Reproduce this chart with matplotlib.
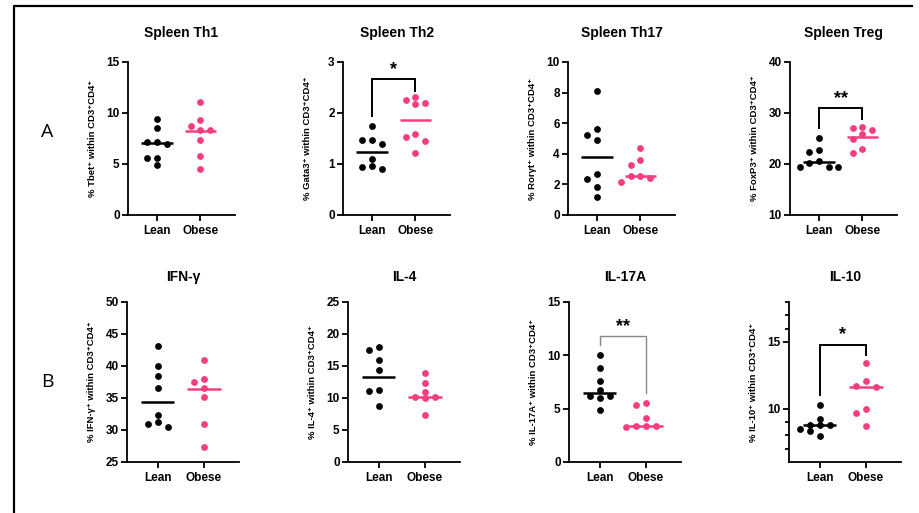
import numpy as np
import matplotlib.pyplot as plt
from matplotlib.lines import Line2D

plt.rcParams['font.family'] = ['Liberation Sans', 'DejaVu Sans']
plt.rcParams['font.weight'] = 'bold'

# --- data ---
groups = ['Lean', 'Obese']
titles = ['Spleen Th1', 'Spleen Th2', 'Spleen Th17', 'Spleen Treg',
          'IFN-γ', 'IL-4', 'IL-17A', 'IL-10']
ylabels = ['% Tbet⁺ within CD3⁺CD4⁺',
           '% Gata3⁺ within CD3⁺CD4⁺',
           '% Rorγt⁺ within CD3⁺CD4⁺',
           '% FoxP3⁺ within CD3⁺CD4⁺',
           '% IFN-γ⁺ within CD3⁺CD4⁺',
           '% IL-4⁺ within CD3⁺CD4⁺',
           '% IL-17A⁺ within CD3⁺CD4⁺',
           '% IL-10⁺ within CD3⁺CD4⁺']

th1_lean = [9.4, 8.5, 7.2, 7.2, 7.0, 5.6, 5.6, 4.9]
th1_obese = [11.1, 9.3, 8.7, 8.3, 8.3, 7.4, 5.8, 4.5]
th2_lean = [1.75, 1.48, 1.48, 1.39, 1.09, 0.96, 0.94, 0.91]
th2_obese = [2.31, 2.25, 2.20, 2.18, 1.58, 1.52, 1.46, 1.22]
th17_lean = [8.1, 5.6, 5.2, 4.9, 2.65, 2.35, 1.85, 1.2]
th17_obese = [4.4, 3.6, 3.3, 2.55, 2.55, 2.4, 2.15]
treg_lean = [25.1, 22.7, 22.4, 20.6, 20.2, 19.4, 19.4, 19.4]
treg_obese = [27.2, 27.0, 26.7, 25.8, 24.9, 23.0, 22.2]
ifn_lean = [43.2, 40.0, 38.4, 36.5, 32.3, 31.2, 31.0, 30.5]
ifn_obese = [40.9, 37.9, 37.5, 36.5, 35.1, 31.0, 27.4]
il4_lean = [18.0, 17.5, 16.0, 14.4, 11.2, 11.1, 8.8]
il4_obese = [13.9, 12.4, 11.0, 10.2, 10.2, 10.0, 7.3]
il17_lean = [10.0, 8.8, 7.6, 6.75, 6.2, 6.2, 6.0, 4.9]
il17_obese = [5.55, 5.3, 4.1, 3.4, 3.4, 3.4, 3.25]
il10_lean = [10.3, 9.25, 8.8, 8.8, 8.75, 8.5, 8.3, 7.95]
il10_obese = [13.4, 12.05, 11.7, 11.6, 10.0, 9.7, 8.7]

lean_all = [th1_lean, th2_lean, th17_lean, treg_lean, ifn_lean, il4_lean, il17_lean, il10_lean]
obese_all = [th1_obese, th2_obese, th17_obese, treg_obese, ifn_obese, il4_obese, il17_obese, il10_obese]
lean_center = [7.07, 1.24, 3.78, 20.4, 34.4, 13.3, 6.5, 8.75]
obese_center = [8.25, 1.87, 2.54, 25.3, 36.4, 10.1, 3.35, 11.6]

ylims = [(0, 15), (0, 3), (0, 10), (10, 40), (25, 50), (0, 25), (0, 15), (6, 18)]
yticks = [[0, 5, 10, 15], [0, 1, 2, 3], [0, 2, 4, 6, 8, 10], [10, 20, 30, 40],
          [25, 30, 35, 40, 45, 50], [0, 5, 10, 15, 20, 25], [0, 5, 10, 15], [10, 15]]

# significance brackets: panel -> (top, left end, right end, label)
brackets = {1: (2.66, 1.94, 2.43, '*'),
            3: (30.9, 27.0, 28.9, '**'),
            6: (11.8, 10.95, 6.44, '**'),
            7: (14.8, 11.0, 14.05, '*')}

pink = '#f53d80'
W, H = 919, 513
fig = plt.figure(figsize=(W / 100, H / 100), dpi=100)


def px_axes(left, top, width, height):
    return fig.add_axes([left / W, 1 - (top + height) / H, width / W, height / H])


def swarm(values, xpx, ypx, dot=6.3, step=0.22):
    # simple beeswarm: shift points sideways if they overlap
    placed = []
    offs = []
    for v in values:
        for k in [0, -1, 1, -2, 2, -3, 3]:
            x = k * step
            ok = all(np.hypot((x - px) * xpx, (v - py) * ypx) >= dot for px, py in placed)
            if ok:
                break
        placed.append((x, v))
        offs.append(x)
    return np.array(offs)


lefts = [128, 343, 568, 790, 127, 348, 569, 789]
for i in range(8):
    if i < 4:
        ax = px_axes(lefts[i], 62, 107, 153)
        xl = (-0.67, 1.8)
        wpx, hpx = 107, 153
    else:
        ax = px_axes(lefts[i], 302, 112, 160)
        xl = (-0.67, 1.76)
        wpx, hpx = 112, 160
    ax.set_xlim(*xl)
    ax.set_ylim(*ylims[i])
    xpx = wpx / (xl[1] - xl[0])
    ypx = hpx / (ylims[i][1] - ylims[i][0])

    for j, (vals, col, cen) in enumerate([(lean_all[i], 'black', lean_center[i]),
                                         (obese_all[i], pink, obese_center[i])]):
        offs = swarm(vals, xpx, ypx)
        ax.scatter(j + offs, vals, s=24, color=col, zorder=3, linewidths=0, clip_on=False)
        ax.plot([j - 0.36, j + 0.36], [cen, cen], color=col, lw=1.8, zorder=2,
                solid_capstyle='butt')

    ax.set_xticks([0, 1])
    ax.set_xticklabels(groups, fontsize=8.5, fontweight='bold')
    ax.set_yticks(yticks[i])
    ax.tick_params(axis='y', labelsize=8.5, length=4, width=1.3, pad=2)
    ax.tick_params(axis='x', length=4, width=1.3, pad=3)
    if i == 7:
        ax.set_yticks([7, 8, 9, 16, 17, 18], minor=True)
        ax.tick_params(axis='y', which='minor', length=3, width=1.3)
    for s in ['top', 'right']:
        ax.spines[s].set_visible(False)
    for s in ['left', 'bottom']:
        ax.spines[s].set_linewidth(1.3)
    ax.set_ylabel(ylabels[i], fontsize=6.8, fontweight='bold')
    ax.yaxis.set_label_coords(-31 / wpx, 0.5)
    ax.set_title(titles[i], fontsize=10, fontweight='bold', pad=18 if i < 4 else 15)

    if i in brackets:
        top, lb, rb, lab = brackets[i]
        if i == 6:
            bc, bw = '#888888', 1.0
        else:
            bc, bw = 'black', 1.4
        ax.plot([0, 0, 1, 1], [lb, top, top, rb], color=bc, lw=bw, zorder=1,
                solid_joinstyle='miter')
        ax.annotate(lab, (0.5, top), xytext=(0, 1), textcoords='offset points',
                    ha='center', va='bottom', fontsize=13, fontweight='bold')

# panel letters and frame
fig.text(47 / W, 1 - 132 / H, 'A', fontsize=14, fontweight='normal',
         family='Open Sans', ha='center', va='center')
fig.text(47 / W, 1 - 382 / H, 'B', fontsize=14, fontweight='normal',
         family='Open Sans', ha='center', va='center')
fig.add_artist(Line2D([14 / W, 14 / W, 912 / W], [0, 1 - 6 / H, 1 - 6 / H],
                      color='black', lw=1.6, transform=fig.transFigure))

fig.savefig('out.png', dpi=100)
